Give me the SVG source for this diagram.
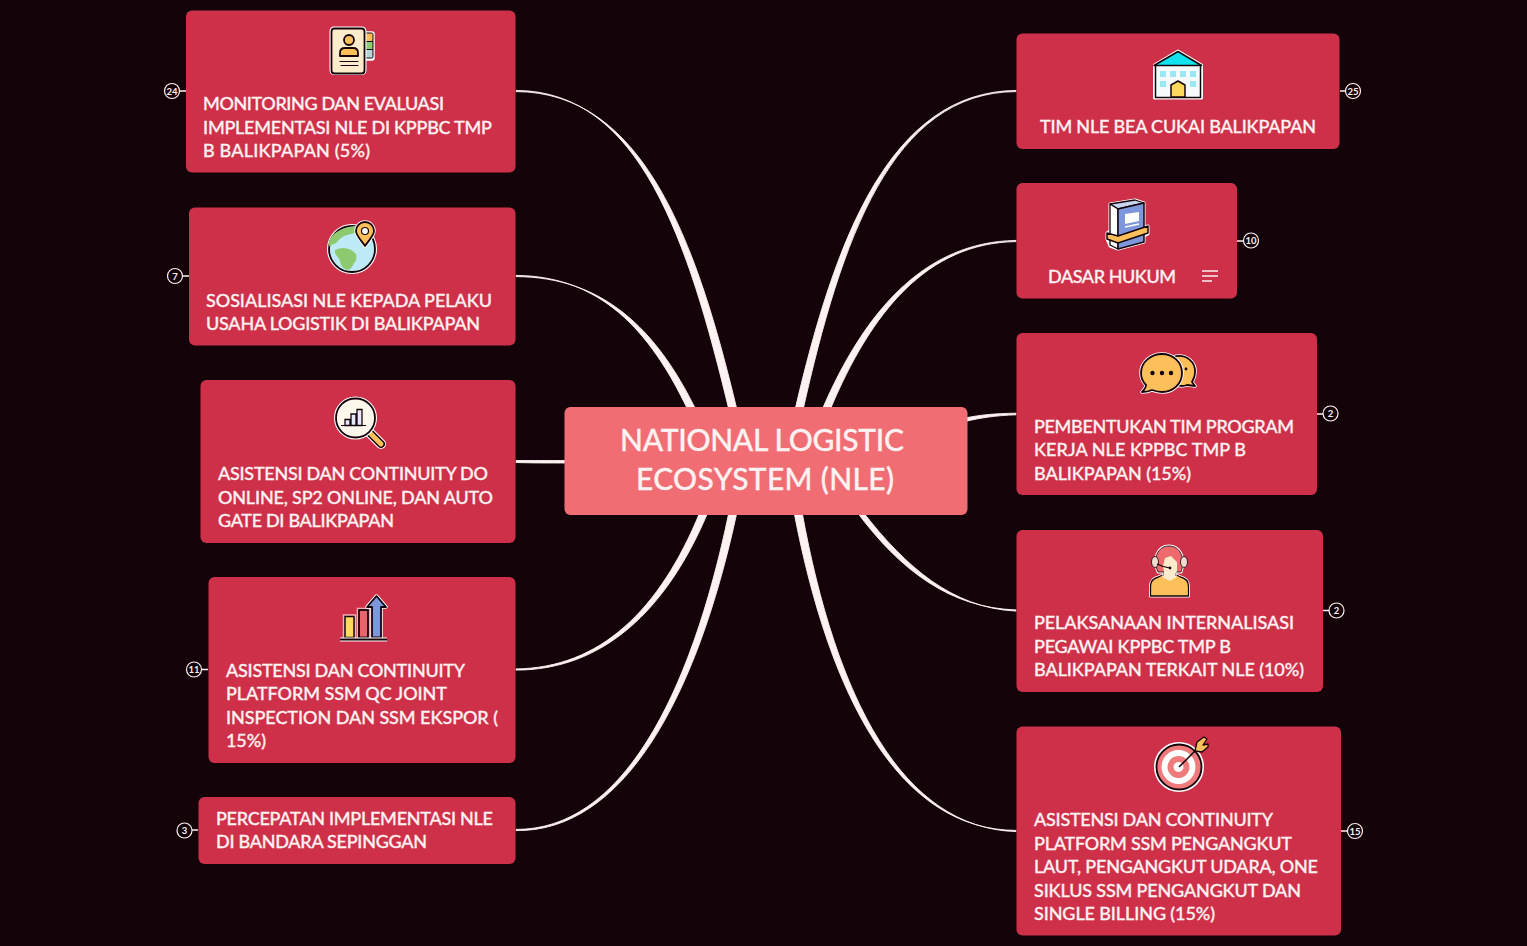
<svg xmlns="http://www.w3.org/2000/svg" width="1527" height="946" viewBox="0 0 1527 946">
<style>
text{font-family:"Lato","Noto Sans","Liberation Sans",sans-serif;fill:#fdf1f1;stroke:#fdf1f1;stroke-width:.3;font-size:18px;font-weight:500}
.n{fill:#cf3049}
.c{fill:#fdf1f1;stroke:#fdf1f1;stroke-width:.9}
.s{stroke:#fdf1f1;stroke-width:1.5;fill:none}
.b{fill:#14040a;stroke:#fdf1f1;stroke-width:1.2}
.bt{font-size:9.5px;text-anchor:middle;font-weight:700;stroke:none}
.h{stroke:#fff;stroke-width:3;stroke-linejoin:round;fill:#fff}
.k{stroke:#14040a;stroke-width:1.8;stroke-linejoin:round;stroke-linecap:round}
</style>
<rect width="1527" height="946" fill="#14040a"/>
<g id="connectors">
<path class="c" d="M516,90.400C640,91 688,240 729,410L737,410C696,238 642,92 516,91.600Z"/>
<path class="c" d="M516,275.400C600,276 650,330 688,410L696,410C656,328 602,277 516,276.600Z"/>
<path class="c" d="M516,460.500C532,460.500 548,460.500 568,460.500L568,463C548,463 532,463 516,462.500Z"/>
<path class="c" d="M516,668.900C600,668 660,610 700,512L708,512C666,612 602,670 516,670.100Z"/>
<path class="c" d="M516,829.400C620,830 690,700 729,512L737,512C696,702 622,832 516,830.600Z"/>
<path class="c" d="M1016,90.400C890,92 835,238 795,410L803,410C841,240 892,92 1016,91.600Z"/>
<path class="c" d="M1016,240.400C925,242 865,310 822,410L830,410C871,312 927,243 1016,241.600Z"/>
<path class="c" d="M1016,413.200C995,413.400 980,415 965,418L965,421.500C980,418 995,415.500 1016,414.800Z"/>
<path class="c" d="M1016,609.900C950,608 900,570 857,512L863,512C905,566 952,608 1016,611.100Z"/>
<path class="c" d="M1016,830.400C900,830 830,700 794,512L802,512C836,698 902,828 1016,831.600Z"/>
<path class="s" d="M186,91H178M189,276H181M208,669.500H200M198,830H190M1340,91H1348M1237,241H1245M1317,414H1325M1323,610.500H1331M1341,831H1349"/>
</g>

<g id="center">
<rect x="564.500" y="407" width="403" height="108" rx="6" fill="#f16d74"/>
<text x="762" y="451" text-anchor="middle" style="font-size:30px" textLength="284">NATIONAL LOGISTIC</text>
<text x="765" y="490" text-anchor="middle" style="font-size:30px" textLength="258">ECOSYSTEM (NLE)</text>
</g>

<g id="node-monitoring">
<rect class="n" x="186" y="10.500" width="329.500" height="162" rx="6"/>
<rect x="360" y="32" width="14" height="28" rx="2" fill="#fff" stroke="#fff" stroke-width="1.500"/>
<rect x="360" y="33" width="13" height="8.500" rx="1.500" fill="#fdbf5a" stroke="#14040a" stroke-width="1"/>
<rect x="360" y="41.500" width="13" height="8" fill="#8dc96f" stroke="#14040a" stroke-width="1"/>
<rect x="360" y="49.500" width="13" height="8.500" rx="1.500" fill="#b7d3d8" stroke="#14040a" stroke-width="1"/>
<rect class="h" x="331" y="28" width="34" height="45.500" rx="3"/>
<rect x="331.500" y="28.500" width="33" height="45" rx="3" fill="#fdeccb" class="k"/>
<circle cx="349" cy="40" r="5" fill="#fdbf5a" class="k"/>
<path d="M340,56v-3q0-5 5-5h8q5 0 5 5v3z" fill="#fdbf5a" class="k"/>
<path d="M340,61.500h18M341,65.500h17" class="k" fill="none" style="stroke-width:1"/>
<text x="203" y="110" textLength="241">MONITORING DAN EVALUASI</text>
<text x="203" y="134" textLength="289">IMPLEMENTASI NLE DI KPPBC TMP</text>
<text x="203" y="157" textLength="167">B BALIKPAPAN (5%)</text>
<circle class="b" cx="172" cy="91" r="7.500"/><text class="bt" x="172" y="94.500">24</text>
</g>

<g id="node-sosialisasi">
<rect class="n" x="189" y="207.500" width="326.500" height="138" rx="6"/>
<circle cx="352" cy="249" r="23.500" class="h"/>
<circle cx="352" cy="249" r="23" fill="#bcebf7" class="k"/>
<path d="M332,236c6-7 20-11 30-10-2 7-12 8-18 10-4 2-6 5-8 7-3 1-6 3-7 3-1-4 1-7 3-10zM335,250c8-4 16-2 21 4 1 5 0 7-2 9-2 4-3 6-6 7-5-1-7-4-8-9-1-4-6-6-5-11z" fill="#8dc96f"/>
<path d="M365,246c-5-7-9-11-9-15a9,9 0 0 1 18,0c0,4-4,8-9,15z" fill="#fff" stroke="#fff" stroke-width="3.500" stroke-linejoin="round"/>
<path d="M365,246c-5-7-9-11-9-15a9,9 0 0 1 18,0c0,4-4,8-9,15z" fill="#fdbf5a" class="k"/>
<circle cx="365" cy="231" r="3.500" fill="#fff" class="k" style="stroke-width:1.200"/>
<text x="206" y="307" textLength="286">SOSIALISASI NLE KEPADA PELAKU</text>
<text x="206" y="330" textLength="274">USAHA LOGISTIK DI BALIKPAPAN</text>
<circle class="b" cx="175" cy="276" r="7.500"/><text class="bt" x="175" y="279.500">7</text>
</g>

<g id="node-asistensi-do">
<rect class="n" x="200.500" y="380" width="315" height="163" rx="6"/>
<path d="M368,431l13,13" stroke="#fff" stroke-width="10" stroke-linecap="round"/>
<path d="M368,431l13,13" stroke="#14040a" stroke-width="8" stroke-linecap="round"/>
<path d="M368,431l13,13" stroke="#fdbf5a" stroke-width="5" stroke-linecap="round"/>
<circle cx="355.500" cy="418" r="20" class="h"/>
<circle cx="355.500" cy="418" r="19.500" fill="#fdf6ea" class="k"/>
<path d="M345,419.500h5v6h-5zM351,414h5v11.500h-5zM357,409.500h5v16h-5z" fill="#e8e8fb" stroke="#14040a" stroke-width="1.300"/>
<path d="M341,425.500h25" stroke="#14040a" stroke-width="1"/>
<text x="218" y="480" textLength="270">ASISTENSI DAN CONTINUITY DO</text>
<text x="218" y="504" textLength="275">ONLINE, SP2 ONLINE, DAN AUTO</text>
<text x="218" y="527" textLength="176">GATE DI BALIKPAPAN</text>
</g>

<g id="node-asistensi-qc">
<rect class="n" x="208.500" y="577" width="307" height="186" rx="6"/>
<rect x="345" y="616.500" width="9" height="21" fill="#ffd95c" stroke="#f2aeb4" stroke-width="4.500"/>
<rect x="345" y="616.500" width="9" height="21" fill="#ffd95c" stroke="#14040a" stroke-width="1.500"/>
<rect x="359" y="610" width="9" height="27.500" fill="#e8656c" stroke="#f2aeb4" stroke-width="4.500"/>
<rect x="359" y="610" width="9" height="27.500" fill="#e8656c" stroke="#14040a" stroke-width="1.800"/>
<path d="M372,637.500V607h-5l9.500-11 9.500,11h-5v30.500z" fill="#fff" stroke="#fff" stroke-width="3.500" stroke-linejoin="round"/>
<path d="M372,637.500V607h-5l9.500-11 9.500,11h-5v30.500z" fill="#7d96dc" stroke="#14040a" stroke-width="1.800" stroke-linejoin="round"/>
<path d="M340,639.500h47" stroke="#fff" stroke-width="4"/>
<path d="M340,639.500h47" stroke="#14040a" stroke-width="1.800"/>
<text x="226" y="677" textLength="239">ASISTENSI DAN CONTINUITY</text>
<text x="226" y="700" textLength="221">PLATFORM SSM QC JOINT</text>
<text x="226" y="724" textLength="272">INSPECTION DAN SSM EKSPOR (</text>
<text x="226" y="747" textLength="40">15%)</text>
<circle class="b" cx="194" cy="669.500" r="7.500"/><text class="bt" x="194" y="673">11</text>
</g>

<g id="node-percepatan">
<rect class="n" x="198.500" y="797" width="317" height="67" rx="6"/>
<text x="216" y="825" textLength="277">PERCEPATAN IMPLEMENTASI NLE</text>
<text x="216" y="848" textLength="211">DI BANDARA SEPINGGAN</text>
<circle class="b" cx="184.500" cy="830.500" r="7.500"/><text class="bt" x="184.500" y="834">3</text>
</g>

<g id="node-tim">
<rect class="n" x="1016.500" y="33.500" width="323" height="115.500" rx="6"/>
<path d="M1154.500,65 1178,51 1201.500,65V98H1154.500Z" class="h"/>
<rect x="1155.500" y="65" width="45" height="32.500" fill="#f6fafc" class="k" style="stroke-width:1.500"/>
<path d="M1154,65.500 1178,51.500 1201.500,65.500Z" fill="#10e3ee" class="k" style="stroke-width:1.500"/>
<path d="M1160,71h6v6h-6zM1170,71h6v6h-6zM1180,71h6v6h-6zM1190,71h6v6h-6zM1160,81h6v6h-6zM1190,81h6v6h-6z" fill="#9be8f5"/>
<path d="M1171,97V85l7-4 7,4V97Z" fill="#ffd95c" class="k" style="stroke-width:1.500"/>
<text x="1040" y="133" textLength="276">TIM NLE BEA CUKAI BALIKPAPAN</text>
<circle class="b" cx="1353" cy="91" r="7.500"/><text class="bt" x="1353" y="94.500">25</text>
</g>

<g id="node-dasar">
<rect class="n" x="1016.500" y="183" width="220.500" height="115.500" rx="6"/>
<path d="M1110,204 1135,200 1144,203V227L1148,226V234L1144,236V242L1118,249 1110,246 1107,239V233L1110,231Z" class="h"/>
<path d="M1110,204 1135,200 1144,203 1118,209Z" fill="#c9d4f0" class="k" style="stroke-width:1.300"/>
<path d="M1110,204 1118,209V249L1110,245Z" fill="#fff" class="k" style="stroke-width:1.300"/>
<path d="M1118,209 1144,203V242L1118,249Z" fill="#7d96dc" class="k" style="stroke-width:1.500"/>
<path d="M1125,214 1139,212V221L1125,224Z" fill="#fff"/>
<path d="M1125,227 1139,224" stroke="#fff" stroke-width="1.300"/>
<path d="M1107,233 1118,236 1148,226V233L1118,243 1107,239Z" fill="#fdbf5a" class="k" style="stroke-width:1.500"/>
<text x="1048" y="283" textLength="128">DASAR HUKUM</text>
<path d="M1202,271h16M1202,276h16M1202,281h10" stroke="#fdf1f1" stroke-width="1.300"/>
<circle class="b" cx="1251" cy="240.500" r="7.500"/><text class="bt" x="1251" y="244">10</text>
</g>

<g id="node-pembentukan">
<rect class="n" x="1016.500" y="333" width="300.500" height="162" rx="6"/>
<path d="M1173,357c13-4 23 5 22 16 0 4-2 7-3 9l3,4-8-1c-5 2-9 1-13-1z" fill="#fff" stroke="#fff" stroke-width="3.500" stroke-linejoin="round"/>
<path d="M1173,357c13-4 23 5 22 16 0 4-2 7-3 9l3,4-8-1c-5 2-9 1-13-1z" fill="#fdbf5a" class="k"/>
<path d="M1162,354c11 0 20 8 20 19 0 11-9 19-20 19-3 0-7-1-10-2-2 1-6 2-10 2 2-2 4-4 4-7-3-3-5-7-5-12 0-11 10-19 21-19z" fill="#fff" stroke="#fff" stroke-width="3.500" stroke-linejoin="round"/>
<path d="M1162,354c11 0 20 8 20 19 0 11-9 19-20 19-3 0-7-1-10-2-2 1-6 2-10 2 2-2 4-4 4-7-3-3-5-7-5-12 0-11 10-19 21-19z" fill="#fdbf5a" class="k"/>
<circle cx="1152.500" cy="373" r="2.200" fill="#14040a"/><circle cx="1162" cy="373" r="2.200" fill="#14040a"/><circle cx="1171" cy="373" r="2.200" fill="#14040a"/><circle cx="1186" cy="369" r="1.400" fill="#14040a"/>
<text x="1034" y="433" textLength="260">PEMBENTUKAN TIM PROGRAM</text>
<text x="1034" y="456" textLength="212">KERJA NLE KPPBC TMP B</text>
<text x="1034" y="480" textLength="157">BALIKPAPAN (15%)</text>
<circle class="b" cx="1330.500" cy="413.500" r="7.500"/><text class="bt" x="1330.500" y="417">2</text>
</g>

<g id="node-pelaksanaan">
<rect class="n" x="1016.500" y="530" width="306.500" height="162" rx="6"/>
<path d="M1150.500,596v-10q0-7 8-9l6-3h10l6,3q8 2 8 9v10z" class="h"/>
<path d="M1150.500,596v-10q0-7 8-9l6-3h10l6,3q8 2 8 9v10z" fill="#fdbf5a" class="k" style="stroke-width:1.300"/>
<path d="M1158,572c-6-14 0-26 11-26 11 0 17 12 12 26h-6v4h-11v-4z" fill="#ee6a6c" stroke="#fff" stroke-width="3" stroke-linejoin="round"/>
<path d="M1158,572c-6-14 0-26 11-26 11 0 17 12 12 26h-6v4h-11v-4z" fill="#ee6a6c" stroke="#14040a" stroke-width=".8"/>
<path d="M1164,578v-6l-1-6 2-8 6-2 6,6v9l-2,3v4l-5,3z" fill="#fdeccb"/>
<ellipse cx="1155" cy="562" rx="3.500" ry="5.500" fill="#f0d9ce" stroke="#14040a" stroke-width=".8"/>
<ellipse cx="1184" cy="562" rx="3.500" ry="5.500" fill="#f0d9ce" stroke="#14040a" stroke-width=".8"/>
<path d="M1157,564q6 3 13 4" stroke="#14040a" stroke-width="1.200" fill="none"/>
<circle cx="1170" cy="568" r="1.400" fill="#14040a"/>
<text x="1034" y="629" textLength="260">PELAKSANAAN INTERNALISASI</text>
<text x="1034" y="653" textLength="197">PEGAWAI KPPBC TMP B</text>
<text x="1034" y="676" textLength="270">BALIKPAPAN TERKAIT NLE (10%)</text>
<circle class="b" cx="1336.500" cy="610.500" r="7.500"/><text class="bt" x="1336.500" y="614">2</text>
</g>

<g id="node-asistensi-pengangkut">
<rect class="n" x="1016.500" y="726.500" width="324.500" height="209" rx="6"/>
<circle cx="1179" cy="767" r="23.500" class="h"/>
<circle cx="1179" cy="767" r="22.500" fill="#ee7a7c" class="k"/>
<circle cx="1178.500" cy="767" r="17" fill="#fff"/>
<circle cx="1178.500" cy="767" r="11" fill="#ee7a7c"/>
<circle cx="1178.500" cy="767" r="5" fill="#fff"/>
<path d="M1179,767l18-18" stroke="#14040a" stroke-width="1.500"/>
<path d="M1195,751l2-9 7-5 3,2-4,6 5-1 0,3-6,5z" fill="#fdbf5a" stroke="#14040a" stroke-width="1.300" stroke-linejoin="round"/>
<text x="1034" y="826" textLength="239">ASISTENSI DAN CONTINUITY</text>
<text x="1034" y="850" textLength="258">PLATFORM SSM PENGANGKUT</text>
<text x="1034" y="873" textLength="284">LAUT, PENGANGKUT UDARA, ONE</text>
<text x="1034" y="897" textLength="267">SIKLUS SSM PENGANGKUT DAN</text>
<text x="1034" y="920" textLength="181">SINGLE BILLING (15%)</text>
<circle class="b" cx="1355" cy="831" r="7.500"/><text class="bt" x="1355" y="834.500">15</text>
</g>
</svg>
